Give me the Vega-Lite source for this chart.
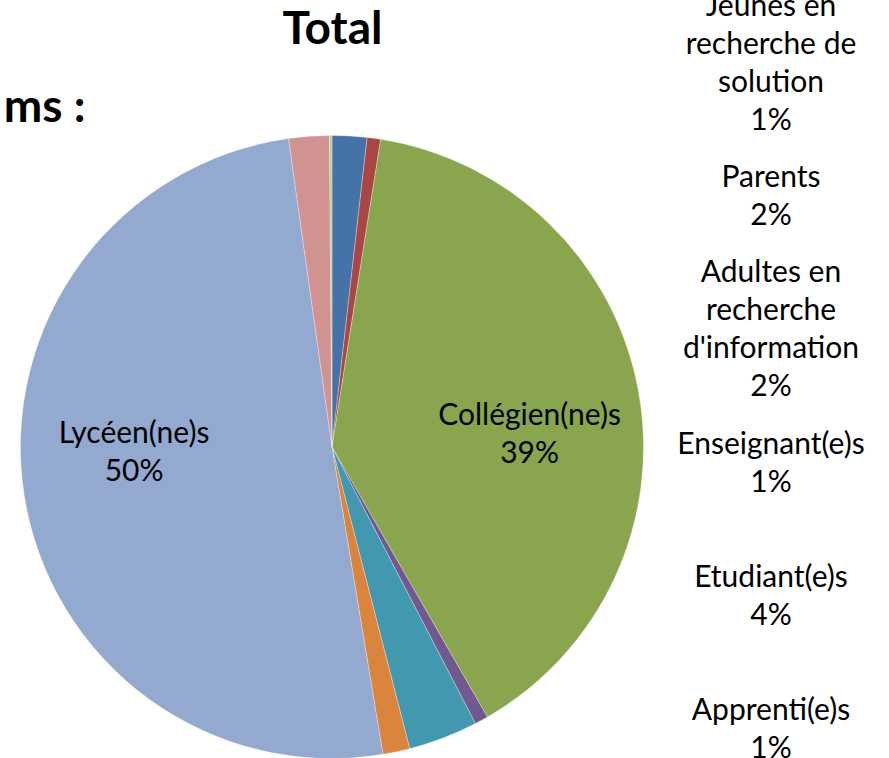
{
  "$schema": "https://vega.github.io/schema/vega-lite/v6.json",
  "width": 889,
  "height": 758,
  "autosize": {"type": "none"},
  "padding": 0,
  "background": "white",
  "config": {"view": {"stroke": null}, "font": "Lato"},
  "title": {"text": "Total", "font": "Lato", "fontSize": 46, "fontWeight": "bold", "color": "#000000", "anchor": "middle", "offset": -62, "dx": -112},
  "layer": [
    {
      "data": {"values": [
        {"nom": "Adultes en recherche d'information", "libelle": "Adultes en\nrecherche\nd'information", "pct": 1.8},
        {"nom": "Apprenti(e)s", "libelle": "Apprenti(e)s", "pct": 0.7},
        {"nom": "Collégien(ne)s", "libelle": "Collégien(ne)s", "pct": 39.2},
        {"nom": "Enseignant(e)s", "libelle": "Enseignant(e)s", "pct": 0.7},
        {"nom": "Etudiant(e)s", "libelle": "Etudiant(e)s", "pct": 3.6},
        {"nom": "Jeunes en recherche de solution", "libelle": "Jeunes en\nrecherche de\nsolution", "pct": 1.4},
        {"nom": "Lycéen(ne)s", "libelle": "Lycéen(ne)s", "pct": 50.4},
        {"nom": "Parents", "libelle": "Parents", "pct": 2.1},
        {"nom": "Sans réponse", "libelle": "Sans réponse", "pct": 0.13}
      ]},
      "transform": [
        {"calculate": "datum.libelle + '\\n' + format(datum.pct, '.0f') + '%'", "as": "etiquette"},
        {"calculate": "length(split(datum.etiquette, '\\n'))", "as": "nlignes"}
      ],
      "layer": [
        {
          "mark": {"type": "arc", "radius": 311.5, "xOffset": -112.5, "yOffset": 68, "stroke": "white", "strokeWidth": 0.3},
          "encoding": {
            "theta": {"field": "pct", "type": "quantitative", "stack": true},
            "order": {"field": "nom", "type": "ordinal"},
            "color": {"field": "nom", "type": "nominal", "legend": null,
              "scale": {"domain": ["Adultes en recherche d'information", "Apprenti(e)s", "Collégien(ne)s", "Enseignant(e)s", "Etudiant(e)s", "Jeunes en recherche de solution", "Lycéen(ne)s", "Parents", "Sans réponse"],
                "range": ["#4572A7", "#AA4643", "#89A54E", "#71588F", "#4198AF", "#DB843D", "#93A9CF", "#D19392", "#B9CD96"]}}
          }
        },
        {
          "transform": [{"calculate": "datum.pct > 10 ? datum.etiquette : ''", "as": "interne"}],
          "mark": {"type": "text", "radius": 198, "thetaOffset": 0.12, "xOffset": -112.5, "yOffset": 68, "fontSize": 30, "lineBreak": "\n", "lineHeight": 38, "baseline": "middle", "color": "#000000", "dy": -19},
          "encoding": {
            "theta": {"field": "pct", "type": "quantitative", "stack": true},
            "order": {"field": "nom", "type": "ordinal"},
            "text": {"field": "interne"}
          }
        },
        {
          "transform": [
            {"filter": "datum.pct < 10 && datum.nom != 'Sans réponse'"}
          ],
          "mark": {"type": "text", "xOffset": 326.5, "fontSize": 30, "lineBreak": "\n", "lineHeight": 38, "baseline": "middle", "color": "#000000",
            "dy": {"expr": "-(datum.nlignes - 1) * 19"}},
          "encoding": {
            "y": {"field": "nom", "type": "nominal", "axis": null,
              "scale": {"type": "point", "padding": 0, "range": [64, 730],
                "domain": ["Jeunes en recherche de solution", "Parents", "Adultes en recherche d'information", "Enseignant(e)s", "Etudiant(e)s", "Apprenti(e)s"]}},
            "text": {"field": "etiquette"}
          }
        }
      ]
    },
    {
      "data": {"values": [{"texte": "ms :"}]},
      "mark": {"type": "text", "align": "right", "baseline": "alphabetic", "xOffset": -359, "yOffset": -257, "fontSize": 46, "fontWeight": "bold", "color": "#000000"},
      "encoding": {"text": {"field": "texte"}}
    }
  ]
}
